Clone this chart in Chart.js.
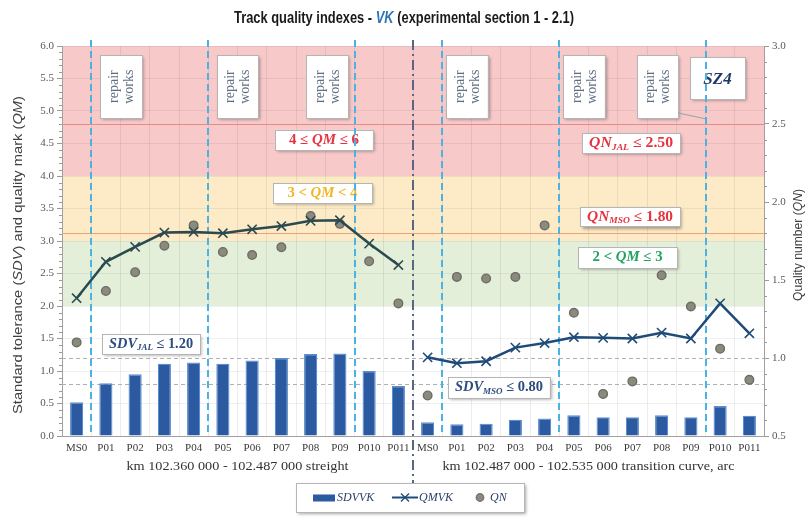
<!DOCTYPE html>
<html><head><meta charset="utf-8">
<script src="https://cdn.jsdelivr.net/npm/chart.js@4.4.0/dist/chart.umd.min.js"></script>
<style>html,body{margin:0;padding:0;background:#fff;}#wrap{width:809px;height:519px;}</style>
</head><body><div id="wrap"><canvas id="c" width="809" height="519"></canvas></div>
<script>
// ---------------- DATA ----------------
const categories = ['MS0','P01','P02','P03','P04','P05','P06','P07','P08','P09','P010','P011',
                    'MS0','P01','P02','P03','P04','P05','P06','P07','P08','P09','P010','P011'];
const sdvVK = [0.52,0.81,0.95,1.11,1.13,1.11,1.16,1.20,1.26,1.27,1.00,0.77,
               0.21,0.18,0.19,0.25,0.27,0.32,0.29,0.29,0.32,0.29,0.46,0.31];
const qmVK  = [2.12,2.68,2.91,3.13,3.14,3.12,3.18,3.23,3.31,3.32,2.96,2.63,
               1.21,1.12,1.15,1.36,1.43,1.52,1.51,1.50,1.59,1.50,2.04,1.58];
const qnVK  = [1.10,1.43,1.55,1.72,1.85,1.68,1.66,1.71,1.91,1.86,1.62,1.35,
               0.76,1.52,1.51,1.52,1.85,1.29,0.77,0.85,1.53,1.33,1.06,0.86];
const leftTicks  = [0,0.5,1,1.5,2,2.5,3,3.5,4,4.5,5,5.5,6];
const rightTicks = [0.5,1,1.5,2,2.5,3];
const sectionLabels = ['km 102.360 000 - 102.487 000 streight','km 102.487 000 - 102.535 000 transition curve, arc'];
const qmBands = [[4,6,'#f8c9c9'],[3,4,'#fcebc6'],[2,3,'#e4efd9']];   // QM zones (left axis)
const qnLimits = [2.50, 1.80];   // QN_JAL, QN_MSO (right axis)
const sdvLimits = [1.20, 0.80];  // SDV_JAL, SDV_MSO (left axis)
const repairBoundaries = [0.5, 4.5, 9.5, 12.5, 16.5, 21.5]; // between categories
const sectionBoundary = 11.5;

// ---------------- HELPERS ----------------
const SERIF = '"Liberation Serif", "DejaVu Serif", serif';
const SANS = '"Liberation Sans Narrow", "Liberation Sans", sans-serif';
function fontStr(p,o){const sz=p.sub?o.size*0.62:o.size;const it=(p.i!==undefined?p.i:o.italic);const b=(p.b!==undefined?p.b:o.bold);
  return (it?'italic ':'')+(b?'bold ':'')+sz+'px '+o.family;}
function drawRich(ctx,parts,x,y,o){
  ctx.save();ctx.textBaseline='middle';ctx.textAlign='left';
  const w=parts.map(p=>{ctx.font=fontStr(p,o);return ctx.measureText(p.t).width;});
  const total=w.reduce((a,b)=>a+b,0);
  const sx=o.width?o.width/total:1;
  ctx.translate(x,y);if(o.rot)ctx.rotate(o.rot);ctx.scale(sx,1);
  let cx=o.align==='left'?0:-total/2;
  parts.forEach((p,k)=>{ctx.font=fontStr(p,o);ctx.fillStyle=p.color||o.color;ctx.fillText(p.t,cx,p.sub?o.size*0.3:0);cx+=w[k];});
  ctx.restore();
}
function box(ctx,x1,y1,x2,y2){
  ctx.save();ctx.shadowColor='rgba(0,0,0,0.35)';ctx.shadowBlur=3;ctx.shadowOffsetX=2;ctx.shadowOffsetY=2;
  ctx.fillStyle='#ffffff';ctx.fillRect(x1,y1,x2-x1,y2-y1);ctx.restore();
  ctx.save();ctx.strokeStyle='#b5b5b5';ctx.lineWidth=1;ctx.strokeRect(Math.round(x1)+0.5,Math.round(y1)+0.5,Math.round(x2-x1),Math.round(y2-y1));ctx.restore();
}
function X(chart,v){const s=chart.scales.x;const step=(s.right-s.left)/categories.length;return s.left+(v+0.5)*step;}
function Y(chart,v){return chart.scales.y.getPixelForValue(v);}

// annotation boxes: [x1,x2] in category units, [yTop,yBottom] in left-axis units
const repairBoxes = [[0.80,2.24],[4.80,6.20],[7.84,9.28],[12.63,14.06],[16.63,18.06],[19.16,20.56]];
const repairY = [5.86,4.89];

const bgPlugin = {
  id:'bg',
  beforeDraw(chart){
    const ctx=chart.ctx,a=chart.chartArea;
    ctx.save();
    qmBands.forEach(b=>{ctx.fillStyle=b[2];const y1=Y(chart,b[1]),y2=Y(chart,b[0]);ctx.fillRect(a.left,y1,a.right-a.left,y2-y1);});
    ctx.restore();
  },
  beforeDatasetsDraw(chart){
    const ctx=chart.ctx,a=chart.chartArea,y2s=chart.scales.y2;
    ctx.save();
    ctx.lineWidth=1.2;
    ctx.strokeStyle='#e38b8b';let yy=Math.round(y2s.getPixelForValue(qnLimits[0]))+0.5;
    ctx.beginPath();ctx.moveTo(a.left,yy);ctx.lineTo(a.right,yy);ctx.stroke();
    ctx.strokeStyle='#efa27a';yy=Math.round(y2s.getPixelForValue(qnLimits[1]))+0.5;
    ctx.beginPath();ctx.moveTo(a.left,yy);ctx.lineTo(a.right,yy);ctx.stroke();
    ctx.strokeStyle='#b0b0b0';ctx.lineWidth=1;ctx.setLineDash([4,3]);
    sdvLimits.forEach(v=>{const y=Math.round(Y(chart,v))+0.5;ctx.beginPath();ctx.moveTo(a.left,y);ctx.lineTo(a.right,y);ctx.stroke();});
    ctx.setLineDash([]);
    ctx.restore();

    repairBoxes.forEach(r=>{
      const x1=X(chart,r[0]),x2=X(chart,r[1]),y1=Y(chart,repairY[0]),y2=Y(chart,repairY[1]);
      box(ctx,x1,y1,x2,y2);
      const cx=(x1+x2)/2,cy=(y1+y2)/2;
      drawRich(ctx,[{t:'repair'}],cx-7,cy,{size:14,family:SERIF,color:'#5f6f82',rot:-Math.PI/2});
      drawRich(ctx,[{t:'works'}],cx+8,cy,{size:14,family:SERIF,color:'#5f6f82',rot:-Math.PI/2});
    });
    {const x1=X(chart,20.97),x2=X(chart,22.85),y1=Y(chart,5.83),y2=Y(chart,5.18);
     ctx.save();ctx.strokeStyle='#9aa0a8';ctx.lineWidth=1;ctx.beginPath();ctx.moveTo(X(chart,20.56),Y(chart,4.97));ctx.lineTo(X(chart,21.5),Y(chart,4.88));ctx.stroke();ctx.restore();
     box(ctx,x1,y1,x2,y2);
     drawRich(ctx,[{t:'SZ4'}],(x1+x2)/2,(y1+y2)/2+1,{size:17,family:SERIF,bold:true,italic:true,color:'#1f3864'});}
    const lbl=(x1,x2,yt,yb,parts,color,w)=>{
      const a1=X(chart,x1),a2=X(chart,x2),b1=Y(chart,yt),b2=Y(chart,yb);box(ctx,a1,b1,a2,b2);
      drawRich(ctx,parts,(a1+a2)/2,(b1+b2)/2,{size:14,family:SERIF,bold:true,color:color,width:w});
    };
    lbl(6.78,10.13,4.71,4.40,[{t:'4 ≤ '},{t:'QM',i:true},{t:' ≤ 6'}],'#e5333f',70);
    lbl(6.71,10.10,3.89,3.58,[{t:'3 < '},{t:'QM',i:true},{t:' < 4'}],'#f2b523',70);
    lbl(17.28,20.63,4.66,4.35,[{t:'QN',i:true},{t:'JAL',i:true,sub:true},{t:' ≤ 2.50'}],'#e5333f',84);
    lbl(17.21,20.63,3.52,3.22,[{t:'QN',i:true},{t:'MSO',i:true,sub:true},{t:' ≤ 1.80'}],'#e5333f',86);
    lbl(17.14,20.53,2.91,2.58,[{t:'2 < '},{t:'QM',i:true},{t:' ≤ 3'}],'#22a160',70);
    lbl(0.87,4.22,1.57,1.26,[{t:'SDV',i:true},{t:'JAL',i:true,sub:true},{t:' ≤ 1.20'}],'#2b4c7e',84);
    lbl(12.70,16.18,0.91,0.58,[{t:'SDV',i:true},{t:'MSO',i:true,sub:true},{t:' ≤ 0.80'}],'#2b4c7e',88);

    ctx.save();ctx.strokeStyle='#4bb3e3';ctx.lineWidth=2;ctx.setLineDash([7,4]);
    repairBoundaries.forEach(v=>{const x=Math.round(X(chart,v));ctx.beginPath();ctx.moveTo(x,a.top-6);ctx.lineTo(x,a.bottom);ctx.stroke();});
    ctx.strokeStyle='#5a6683';ctx.setLineDash([10,4,2,4]);
    const xd=Math.round(X(chart,sectionBoundary));ctx.beginPath();ctx.moveTo(xd,a.top-6);ctx.lineTo(xd,a.bottom+54);ctx.stroke();
    ctx.restore();
  },
  afterDraw(chart){
    const ctx=chart.ctx,a=chart.chartArea,ys=chart.scales.y,y2s=chart.scales.y2;
    ctx.save();ctx.strokeStyle='#9a9a9a';ctx.lineWidth=1;
    for(let i=0;i<=60;i++){if(i%5===0)continue;const y=Math.round(ys.getPixelForValue(i/10))+0.5;ctx.beginPath();ctx.moveTo(a.left-3,y);ctx.lineTo(a.left,y);ctx.stroke();}
    for(let i=5;i<=30;i++){if(i%5===0)continue;const y=Math.round(y2s.getPixelForValue(i/10))+0.5;ctx.beginPath();ctx.moveTo(a.right,y);ctx.lineTo(a.right+3,y);ctx.stroke();}
    ctx.restore();
    drawRich(ctx,[{t:'Track quality indexes - '},{t:'VK',i:true,color:'#2e75b6'},{t:' (experimental section 1 - 2.1)'}],
      404,18,{size:17,family:SANS,bold:true,color:'#1a1a1a',width:340});
    drawRich(ctx,[{t:'Standard tolerance ('},{t:'SDV',i:true},{t:') and quality mark ('},{t:'QM',i:true},{t:')'}],
      18,255,{size:13,family:SANS,color:'#404040',rot:-Math.PI/2,width:318});
    drawRich(ctx,[{t:'Quality number ('},{t:'QN',i:true},{t:')'}],
      798,245,{size:13,family:SANS,color:'#404040',rot:-Math.PI/2,width:112});
    drawRich(ctx,[{t:sectionLabels[0]}],X(chart,5.5),467,{size:12,family:SERIF,color:'#333333',width:222});
    drawRich(ctx,[{t:sectionLabels[1]}],X(chart,17.5),467,{size:12,family:SERIF,color:'#333333',width:292});
    // legend
    const lx1=296,lx2=524,ly1=483,ly2=512,lcy=(ly1+ly2)/2;
    box(ctx,lx1,ly1,lx2,ly2);
    ctx.save();
    ctx.fillStyle='#2c5aa0';ctx.fillRect(313,lcy-3,22,7);
    ctx.strokeStyle='#1f4b78';ctx.lineWidth=2;ctx.beginPath();ctx.moveTo(392,lcy);ctx.lineTo(418,lcy);ctx.stroke();
    ctx.lineWidth=1.3;ctx.beginPath();ctx.moveTo(401,lcy-4);ctx.lineTo(409,lcy+4);ctx.moveTo(401,lcy+4);ctx.lineTo(409,lcy-4);ctx.stroke();
    ctx.fillStyle='#8a8a82';ctx.strokeStyle='#707068';ctx.lineWidth=1.2;ctx.beginPath();ctx.arc(480,lcy,3.8,0,Math.PI*2);ctx.fill();ctx.stroke();
    ctx.restore();
    drawRich(ctx,[{t:'SDVVK'}],337,lcy,{size:12,family:SERIF,italic:true,color:'#2b3f66',align:'left'});
    drawRich(ctx,[{t:'QMVK'}],419,lcy,{size:12,family:SERIF,italic:true,color:'#2b3f66',align:'left'});
    drawRich(ctx,[{t:'QN'}],490,lcy,{size:12,family:SERIF,italic:true,color:'#2b3f66',align:'left'});
  }
};

const leftColor='#2b4a50', rightColor='#1f4b78';
new Chart(document.getElementById('c'),{
  type:'bar',
  data:{labels:categories,datasets:[
    {type:'line',label:'QMVK',data:qmVK,yAxisID:'y',order:1,borderWidth:2.5,
     segment:{borderColor:c=>c.p0DataIndex===11?'rgba(0,0,0,0)':(c.p0DataIndex<11?leftColor:rightColor)},
     borderColor:rightColor,pointStyle:'crossRot',pointRadius:6.5,pointBorderWidth:1.6,
     pointBorderColor:qmVK.map((v,i)=>i<12?leftColor:rightColor),tension:0},
    {type:'line',label:'QN',data:qnVK,yAxisID:'y2',order:2,showLine:false,pointStyle:'circle',pointRadius:4.3,
     pointBackgroundColor:'#8a8a7e',pointBorderColor:'#6d6d62',pointBorderWidth:1.4},
    {type:'bar',label:'SDVVK',data:sdvVK,yAxisID:'y',order:3,backgroundColor:'#2c5aa0',borderColor:'#5a8fd4',borderWidth:1.2,
     categoryPercentage:1,barPercentage:0.45}
  ]},
  options:{
    responsive:false,animation:false,devicePixelRatio:1,
    layout:{padding:{top:46,left:0,right:0,bottom:0}},
    plugins:{legend:{display:false},tooltip:{enabled:false},title:{display:false}},
    scales:{
      x:{type:'category',offset:true,
         grid:{display:true,color:'rgba(0,0,0,0.07)',offset:true,drawTicks:false},
         border:{color:'#a0a0a0'},
         ticks:{autoSkip:false,maxRotation:0,minRotation:0,padding:6,color:'#3a3a3a',font:{family:SERIF,size:11}},
         afterFit(s){s.height=83;}},
      y:{position:'left',min:0,max:6,
         afterBuildTicks(s){s.ticks=leftTicks.map(v=>({value:v}));},
         ticks:{padding:3,color:'#595959',font:{family:SERIF,size:11},callback:v=>Number(v).toFixed(1)},
         grid:{color:'rgba(0,0,0,0.06)',tickLength:5,tickColor:'#9a9a9a'},
         border:{color:'#a0a0a0'},
         afterFit(s){s.width=62;}},
      y2:{position:'right',min:0.5,max:3,
         afterBuildTicks(s){s.ticks=rightTicks.map(v=>({value:v}));},
         ticks:{padding:3,color:'#595959',font:{family:SERIF,size:11},callback:v=>Number(v).toFixed(1)},
         grid:{drawOnChartArea:false,tickLength:5,tickColor:'#9a9a9a'},
         border:{color:'#a0a0a0'},
         afterFit(s){s.width=45;}}
    }
  },
  plugins:[bgPlugin]
});
</script></body></html>
